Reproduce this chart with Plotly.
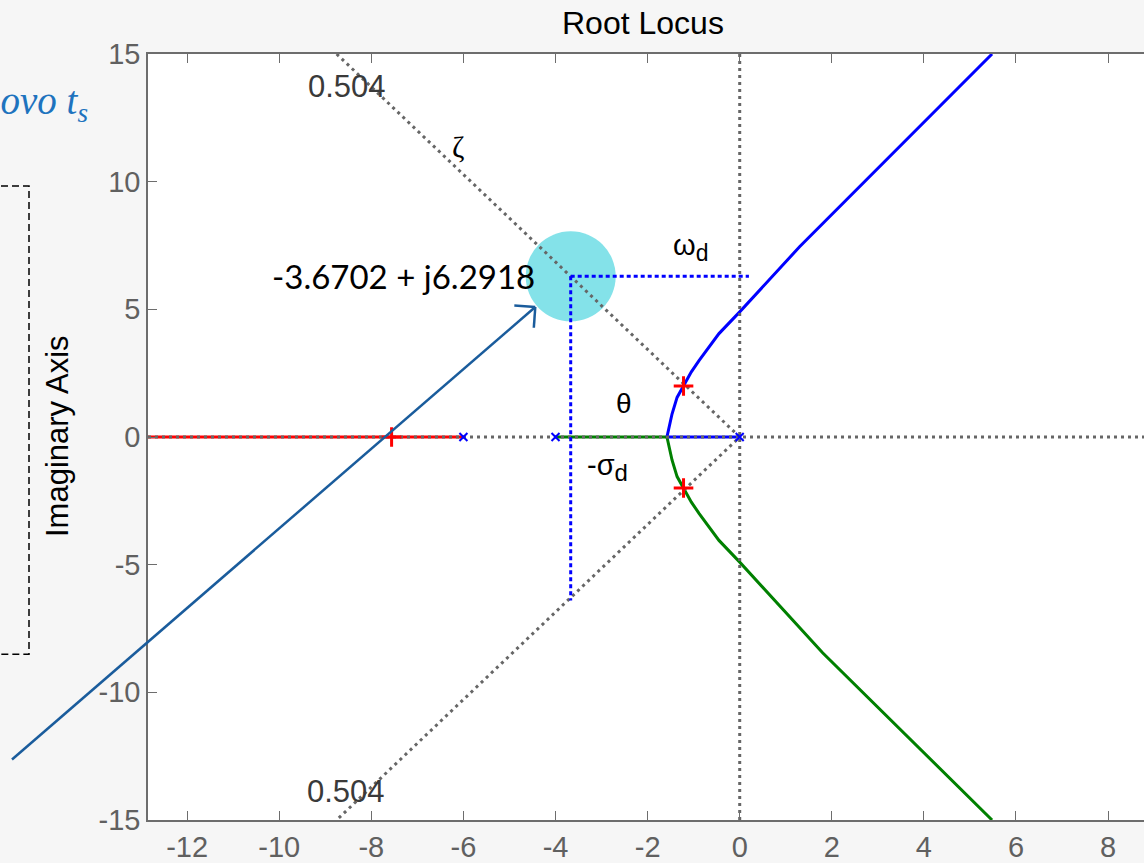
import math
import plotly.graph_objects as go

# ---------------------------------------------------------------- data
open_loop_poles_re = [0.0, -4.0, -6.0]
open_loop_poles_im = [0.0, 0.0, 0.0]

# locus segments lying on the real axis
red_axis_re = [-6.0, -13.5]
red_axis_im = [0.0, 0.0]
green_axis_re = [-4.0, -1.58]
green_axis_im = [0.0, 0.0]
blue_axis_re = [0.0, -1.58]
blue_axis_im = [0.0, 0.0]

# complex branches leaving the breakaway point
upper_re = [-1.58, -1.47, -1.36, -1.22, -1.05, -0.88, -0.45, 0.0, 1.3, 5.48]
upper_im = [0.0, 0.9, 1.55, 2.0, 2.55, 3.0, 4.05, 4.9, 7.45, 15.0]
lower_re = [-1.58, -1.47, -1.36, -1.22, -1.05, -0.88, -0.45, 0.0, 1.8, 5.48]
lower_im = [0.0, -0.9, -1.55, -2.0, -2.55, -3.0, -4.05, -4.9, -8.45, -15.0]

# closed-loop poles at the current gain
cl_poles_re = [-1.22, -1.22, -7.56]
cl_poles_im = [2.0, -2.0, 0.0]

# damping ratio of the sgrid line
zeta = 0.504

# new design point and its guides
design_re = -3.6702
design_im = 6.2918
sigma_guide_bottom = -6.4
omega_guide_right = 0.2

x_ticks = [-12, -10, -8, -6, -4, -2, 0, 2, 4, 6, 8]
y_ticks = [-15, -10, -5, 0, 5, 10, 15]
x_range = [-12.85, 8.78]
y_range = [-15.0, 15.0]

# ---------------------------------------------------------------- geometry helpers
W, H = 1144, 863
ML, MR, MT, MB = 148, 0, 54, 37
PW, PH = W - ML - MR, H - MT - MB


def data_to_px(x, y):
    px = ML + (x - x_range[0]) / (x_range[1] - x_range[0]) * PW
    py = MT + (y_range[1] - y) / (y_range[1] - y_range[0]) * PH
    return px, py


def px_to_paper(px, py):
    return (px - ML) / PW, (H - MB - py) / PH


# zeta line end points on the top and bottom edges
zeta_slope = math.sqrt(1 - zeta ** 2) / zeta
zeta_edge_re = -y_range[1] / zeta_slope
zeta_re = [zeta_edge_re, 0.0, zeta_edge_re]
zeta_im = [y_range[1], 0.0, y_range[0]]

GRID = "#666666"
fig = go.Figure()

# highlighted design point
fig.add_trace(go.Scatter(x=[design_re], y=[design_im], mode="markers",
                         marker=dict(size=90, color="#84e2e9", line_width=0)))

# root locus branches
fig.add_trace(go.Scatter(x=red_axis_re, y=red_axis_im, mode="lines",
                         line=dict(color="#ff0000", width=3)))
fig.add_trace(go.Scatter(x=green_axis_re, y=green_axis_im, mode="lines",
                         line=dict(color="#008000", width=3)))
fig.add_trace(go.Scatter(x=lower_re, y=lower_im, mode="lines",
                         line=dict(color="#008000", width=3)))
fig.add_trace(go.Scatter(x=blue_axis_re, y=blue_axis_im, mode="lines",
                         line=dict(color="#0000ff", width=3)))
fig.add_trace(go.Scatter(x=upper_re, y=upper_im, mode="lines",
                         line=dict(color="#0000ff", width=3)))

# s-plane grid: real axis, imaginary axis and constant-zeta rays
dot = dict(color=GRID, width=3, dash="3px,4px")
fig.add_trace(go.Scatter(x=[x_range[0], x_range[1]], y=[0, 0], mode="lines", line=dot))
fig.add_trace(go.Scatter(x=[0, 0], y=[y_range[0], y_range[1]], mode="lines", line=dot))
fig.add_trace(go.Scatter(x=zeta_re, y=zeta_im, mode="lines", line=dot))

# omega_d and sigma_d guides
bdot = dict(color="#0000ff", width=3, dash="4px,3px")
fig.add_trace(go.Scatter(x=[design_re, omega_guide_right], y=[design_im, design_im],
                         mode="lines", line=bdot))
fig.add_trace(go.Scatter(x=[design_re, design_re], y=[design_im, sigma_guide_bottom],
                         mode="lines", line=bdot))

# open-loop poles and closed-loop poles
fig.add_trace(go.Scatter(x=open_loop_poles_re, y=open_loop_poles_im, mode="markers",
                         marker=dict(symbol="x-thin", size=8,
                                     line=dict(color="#0000ff", width=2))))
fig.add_trace(go.Scatter(x=cl_poles_re, y=cl_poles_im, mode="markers",
                         marker=dict(symbol="cross-thin", size=14,
                                     line=dict(color="#ff0000", width=3))))

# ---------------------------------------------------------------- overlays
ARROW = "#1a5c9c"
cx, cy = data_to_px(design_re, design_im)
tail_px = (12, 765)
vx, vy = tail_px[0] - cx, tail_px[1] - cy
vlen = math.hypot(vx, vy)
ux, uy = vx / vlen, vy / vlen
tip_px = (cx + ux * 47, cy + uy * 47)

shapes = []
t0 = px_to_paper(*tail_px)
t1 = px_to_paper(*tip_px)
shapes.append(dict(type="line", xref="paper", yref="paper", x0=t0[0], y0=t0[1],
                   x1=t1[0], y1=t1[1], line=dict(color=ARROW, width=2.5)))
for ang in (math.radians(45), math.radians(-45)):
    ax_ = ux * math.cos(ang) - uy * math.sin(ang)
    ay_ = ux * math.sin(ang) + uy * math.cos(ang)
    end = px_to_paper(tip_px[0] + ax_ * 21, tip_px[1] + ay_ * 21)
    shapes.append(dict(type="line", xref="paper", yref="paper", x0=t1[0], y0=t1[1],
                       x1=end[0], y1=end[1], line=dict(color=ARROW, width=2.5)))

# dashed frame at the left margin
r0 = px_to_paper(-10, 187)
r1 = px_to_paper(29, 659)
shapes.append(dict(type="rect", xref="paper", yref="paper", x0=r0[0], y0=r0[1],
                   x1=r1[0], y1=r1[1], line=dict(color="black", width=1.5, dash="7px,4px"),
                   fillcolor="rgba(0,0,0,0)"))

SANS = "Liberation Sans"


def sub(main, s, size):
    return f"{main}<sub><span style='font-size:{size}px'>{s}</span></sub>"


annotations = [
    dict(x=-4.40, y=design_im, xanchor="right", yanchor="middle",
         text=f"{design_re:.4f} + j{design_im:.4f}",
         font=dict(family="Lato", size=33, color="black")),
    dict(x=-6.11, y=11.39, text="ζ", font=dict(family="Liberation Serif", size=30, color="black")),
    dict(x=-1.07, y=7.42, text=sub("ω", "d", 23), font=dict(family=SANS, size=29, color="black")),
    dict(x=-2.51, y=1.32, text="θ", font=dict(family=SANS, size=28, color="black")),
    dict(x=-2.88, y=-1.20, text=sub("-σ", "d", 24), font=dict(family=SANS, size=29, color="black")),
    dict(x=-8.52, y=13.72, text=f"{zeta:.3f}", font=dict(family=SANS, size=31, color="#3a3a3a")),
    dict(x=-8.54, y=-13.87, text=f"{zeta:.3f}", font=dict(family=SANS, size=31, color="#3a3a3a")),
]
for a in annotations:
    a.setdefault("showarrow", False)
    a.setdefault("xanchor", "center")
    a.setdefault("yanchor", "middle")

tx, ty = px_to_paper(643, 23)
annotations.append(dict(xref="paper", yref="paper", x=tx, y=ty, showarrow=False,
                        xanchor="center", yanchor="middle",
                        text="Root Locus", font=dict(family=SANS, size=32, color="black")))
lx, ly = px_to_paper(57, 439)
annotations.append(dict(xref="paper", yref="paper", x=lx, y=ly, showarrow=False,
                        xanchor="center", yanchor="middle",
                        textangle=-90, text="Imaginary Axis",
                        font=dict(family=SANS, size=31, color="black")))
nx, ny = px_to_paper(90, 104)
annotations.append(dict(xref="paper", yref="paper", x=nx, y=ny, xanchor="right",
                        yanchor="middle",
                        showarrow=False, text="<i>novo t<sub>s</sub></i>",
                        font=dict(family="Liberation Serif", size=39, color="#1e73be")))

axis_common = dict(ticks="inside", ticklen=9, tickwidth=1.3, tickcolor="#6d6d6d",
                   showline=True, linecolor="#6d6d6d", linewidth=1.5,
                   showgrid=False, zeroline=False,
                   tickfont=dict(family=SANS, size=29, color="#606060"))

fig.update_layout(
    width=W, height=H,
    margin=dict(l=ML, r=MR, t=MT, b=MB),
    paper_bgcolor="#f6f6f6", plot_bgcolor="white",
    showlegend=False,
    xaxis=dict(range=x_range, tickvals=x_ticks, ticktext=[str(v) for v in x_ticks],
               mirror="ticks", **axis_common),
    yaxis=dict(range=y_range, tickvals=y_ticks, ticktext=[str(v) for v in y_ticks],
               mirror=False, **axis_common),
    shapes=shapes, annotations=annotations,
)

fig.write_html("out.html", config={"displayModeBar": False})
